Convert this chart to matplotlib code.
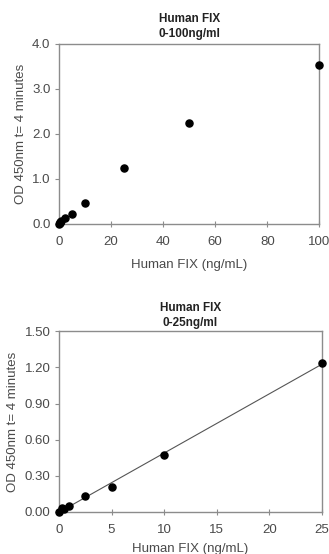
"""Human FIX standard curves, 0-100 and 0-25 ng/ml."""

import matplotlib

matplotlib.use("Agg")
import matplotlib.pyplot as plt
import numpy as np

plt.rcParams["font.family"] = ["Liberation Sans", "DejaVu Sans"]

conc_full = [0, 0.25, 0.5, 1, 2.5, 5, 10, 25, 50, 100]
od_full = [0.0, 0.02, 0.03, 0.06, 0.13, 0.21, 0.47, 1.24, 2.25, 3.52]

conc_low = [0, 0.25, 0.5, 1, 2.5, 5, 10, 25]
od_low = [0.0, 0.03, 0.02, 0.05, 0.13, 0.21, 0.47, 1.24]

xticks_full = [0, 20, 40, 60, 80, 100]
yticks_full = [0.0, 1.0, 2.0, 3.0, 4.0]
xticks_low = [0, 5, 10, 15, 20, 25]
yticks_low = [0.0, 0.3, 0.6, 0.9, 1.2, 1.5]

GREY = "#8c8c8c"
TXT = "#4a4a4a"


def style(ax):
    for sp in ax.spines.values():
        sp.set_color(GREY)
        sp.set_linewidth(1.0)
    ax.tick_params(colors=GREY, labelcolor=TXT, labelsize=9.5, width=0.8)
    ax.tick_params(axis="x", direction="inout", length=5, pad=6)
    ax.tick_params(axis="y", direction="out", length=3, pad=3)


fig = plt.figure(figsize=(3.29, 5.54), dpi=100)
ax1 = fig.add_axes([0.179, 0.596, 0.792, 0.325])
ax2 = fig.add_axes([0.179, 0.076, 0.800, 0.326])

# top: full range, points only
ax1.scatter(conc_full, od_full, s=26, color="black", zorder=3, clip_on=False)
ax1.set_xlim(0, 100)
ax1.set_ylim(0, 4.0)
ax1.set_xticks(xticks_full)
ax1.set_yticks(yticks_full)
ax1.set_yticklabels([f"{v:.1f}" for v in yticks_full])
ax1.set_xlabel("Human FIX (ng/mL)", fontsize=9.5, color=TXT, labelpad=8)
ax1.set_ylabel("OD 450nm t= 4 minutes", fontsize=9.5, color=TXT, labelpad=4)
ax1.set_title("Human FIX\n0-100ng/ml", fontsize=8.5, fontweight="bold", color="#222222",
              linespacing=1.3, pad=5)
style(ax1)

# bottom: low range with linear fit
ax2.scatter(conc_low, od_low, s=26, color="black", zorder=3, clip_on=False)
slope, intercept = np.polyfit(conc_low, od_low, 1)
xs = np.array([0, 25])
ax2.plot(xs, slope * xs + intercept, color="#555555", linewidth=0.8)
ax2.set_xlim(0, 25)
ax2.set_ylim(0, 1.5)
ax2.set_xticks(xticks_low)
ax2.set_yticks(yticks_low)
ax2.set_yticklabels([f"{v:.2f}" for v in yticks_low])
ax2.set_xlabel("Human FIX (ng/mL)", fontsize=9.5, color=TXT, labelpad=5)
ax2.set_ylabel("OD 450nm t= 4 minutes", fontsize=9.5, color=TXT, labelpad=4)
ax2.set_title("Human FIX\n0-25ng/ml", fontsize=8.5, fontweight="bold", color="#222222",
              linespacing=1.3, pad=4)
style(ax2)

plt.savefig("out.png", dpi=100)
plt.close(fig)
